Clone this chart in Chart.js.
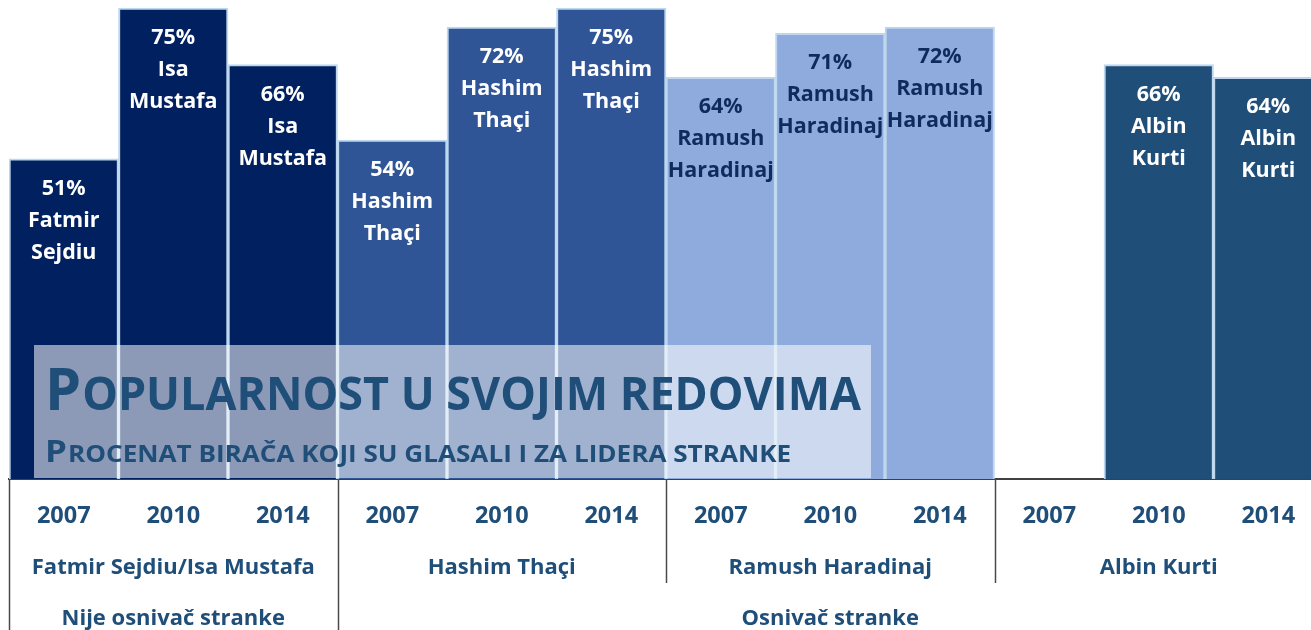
<!DOCTYPE html>
<html>
<head>
<meta charset="utf-8">
<script src="https://cdn.jsdelivr.net/npm/chart.js@4/dist/chart.umd.min.js"></script>
<style>
  html, body { margin: 0; padding: 0; background: #ffffff; overflow: hidden; width: 1311px; height: 630px; }
  #wrap { position: absolute; left: 0; top: 0; width: 1323px; height: 630px; }
</style>
</head>
<body>
<div id="wrap"><canvas id="c" width="1323" height="630"></canvas></div>
<script>
// ---- data ----
const years = ["2007", "2010", "2014", "2007", "2010", "2014", "2007", "2010", "2014", "2007", "2010", "2014"];
const values = [51, 75, 66, 54, 72, 75, 64, 71, 72, null, 66, 64];
const leaderNames = [
  ["Fatmir", "Sejdiu"], ["Isa", "Mustafa"], ["Isa", "Mustafa"],
  ["Hashim", "Thaçi"], ["Hashim", "Thaçi"], ["Hashim", "Thaçi"],
  ["Ramush", "Haradinaj"], ["Ramush", "Haradinaj"], ["Ramush", "Haradinaj"],
  null, ["Albin", "Kurti"], ["Albin", "Kurti"]
];
const groups = ["Fatmir Sejdiu/Isa Mustafa", "Hashim Thaçi", "Ramush Haradinaj", "Albin Kurti"];
const groupOfBar = [0, 0, 0, 1, 1, 1, 2, 2, 2, 3, 3, 3];
const founderLabels = ["Nije osnivač stranke", "Osnivač stranke"];
const founderSpans = [[0, 2], [3, 11]];
const titleText = "Popularnost u svojim redovima";
const subtitleText = "Procenat birača koji su glasali i za lidera stranke";

// ---- styles ----
const groupColors = ["#002060", "#2f5597", "#8faadc", "#1f4e79"];
const labelColors = ["#ffffff", "#ffffff", "#0f2b5e", "#ffffff"];
const textBlue = "#1f4e79";
const FONT = '"Open Sans", "Noto Sans", sans-serif';

const barColors = groupOfBar.map(g => groupColors[g]);

const overlayPlugin = {
  id: 'overlay',
  afterDatasetsDraw(chart) {
    const ctx = chart.ctx;
    const x = chart.scales.x;
    const meta = chart.getDatasetMeta(0);
    const bottom = chart.chartArea.bottom;

    // title box
    ctx.save();
    ctx.fillStyle = 'rgba(255,255,255,0.55)';
    ctx.fillRect(34, 345, 837, bottom - 345 - 1);
    ctx.restore();

    function smallCaps(text, left, baseline, big, small, targetW) {
      ctx.save();
      const first = text.charAt(0).toUpperCase();
      const rest = text.slice(1).toUpperCase();
      ctx.font = 'bold ' + big + 'px ' + FONT;
      const w1 = ctx.measureText(first).width;
      ctx.font = 'bold ' + small + 'px ' + FONT;
      const w2 = ctx.measureText(rest).width;
      const sx = targetW / (w1 + w2);
      ctx.translate(left, baseline);
      ctx.scale(sx, 1);
      ctx.fillStyle = textBlue;
      ctx.textBaseline = 'alphabetic';
      ctx.textAlign = 'left';
      ctx.font = 'bold ' + big + 'px ' + FONT;
      ctx.fillText(first, 0, 0);
      ctx.font = 'bold ' + small + 'px ' + FONT;
      ctx.fillText(rest, w1 + 1, 0);
      ctx.restore();
    }
    smallCaps(titleText, 45, 410, 59, 46, 815);
    smallCaps(subtitleText, 45, 462, 30, 22.5, 745);

    // bar labels
    ctx.save();
    ctx.textAlign = 'center';
    ctx.textBaseline = 'middle';
    ctx.font = 'bold 21.5px ' + FONT;
    meta.data.forEach((bar, i) => {
      if (values[i] == null) return;
      const lines = [values[i] + '%'].concat(leaderNames[i]);
      ctx.fillStyle = labelColors[groupOfBar[i]];
      lines.forEach((t, k) => ctx.fillText(t, bar.x, bar.y + 30 + k * 32));
    });
    ctx.restore();

    // separators & lower label rows
    const half = (x.getPixelForValue(1) - x.getPixelForValue(0)) / 2;
    const edge = i => x.getPixelForValue(i) - half;
    ctx.save();
    ctx.strokeStyle = '#4a4a4a';
    ctx.lineWidth = 1.5;
    [[0, 630], [3, 630], [6, 583], [9, 583]].forEach(([i, y2]) => {
      const px = Math.round(edge(i)) + 0.5;
      ctx.beginPath();
      ctx.moveTo(px, bottom);
      ctx.lineTo(px, y2);
      ctx.stroke();
    });
    ctx.fillStyle = textBlue;
    ctx.textAlign = 'center';
    ctx.textBaseline = 'middle';
    ctx.font = 'bold 22px ' + FONT;
    groups.forEach((g, gi) => {
      const cx = (edge(gi * 3) + edge(gi * 3 + 3)) / 2;
      ctx.fillText(g, cx, 568);
    });
    founderLabels.forEach((f, fi) => {
      const [a, b] = founderSpans[fi];
      const cx = (edge(a) + edge(b + 1)) / 2;
      ctx.fillText(f, cx, 619);
    });
    ctx.restore();
  }
};

new Chart(document.getElementById('c'), {
  type: 'bar',
  data: {
    labels: years,
    datasets: [{
      data: values,
      backgroundColor: barColors,
      borderColor: '#bdd7ee',
      borderWidth: 2,
      borderSkipped: 'bottom',
      barPercentage: 1.0,
      categoryPercentage: 1.0
    }]
  },
  options: {
    responsive: false,
    animation: false,
    devicePixelRatio: 1,
    layout: { padding: { left: 9, right: 0, top: 0, bottom: 0 } },
    plugins: { legend: { display: false }, tooltip: { enabled: false }, title: { display: false } },
    scales: {
      x: {
        grid: { display: false },
        border: { display: true, color: '#404040', width: 2 },
        ticks: { color: textBlue, font: { family: FONT, size: 23.5, weight: 'bold' }, padding: 15, maxRotation: 0, autoSkip: false },
        afterFit(s) { s.height = 151; }
      },
      y: {
        display: false,
        min: 0,
        max: 76.3
      }
    }
  },
  plugins: [overlayPlugin]
});
</script>
</body>
</html>
